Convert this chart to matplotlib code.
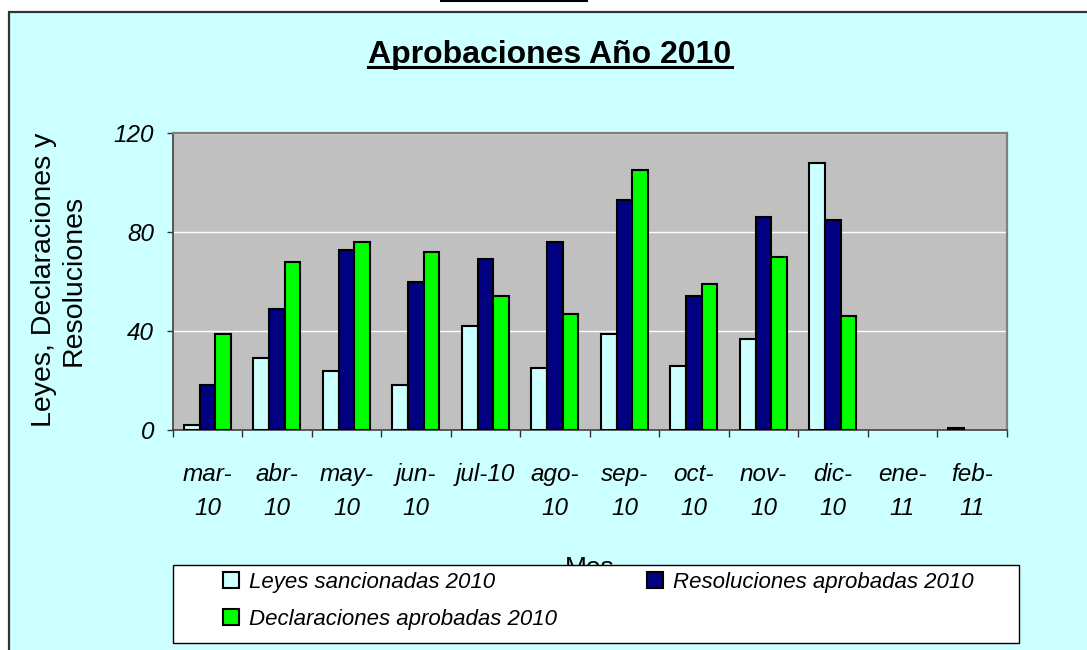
import numpy as np
import matplotlib
matplotlib.use("Agg")
import matplotlib.pyplot as plt
from matplotlib.patches import Rectangle
from matplotlib.lines import Line2D

plt.rcParams['font.family'] = ['Liberation Sans', 'DejaVu Sans']

# data
meses = ['mar-\n10', 'abr-\n10', 'may-\n10', 'jun-\n10', 'jul-10', 'ago-\n10',
         'sep-\n10', 'oct-\n10', 'nov-\n10', 'dic-\n10', 'ene-\n11', 'feb-\n11']
leyes = [2, 29, 24, 18, 42, 25, 39, 26, 37, 108, 0, 1]
resoluciones = [18, 49, 73, 60, 69, 76, 93, 54, 86, 85, 0, 0]
declaraciones = [39, 68, 76, 72, 54, 47, 105, 59, 70, 46, 0, 0]
series_names = ['Leyes sancionadas 2010', 'Resoluciones aprobadas 2010',
                'Declaraciones aprobadas 2010']
yticks = [0, 40, 80, 120]

W, H = 1087, 650


def fx(px):
    return px / W


def fy(py):
    return 1 - py / H


fig = plt.figure(figsize=(W / 100, H / 100), dpi=100, facecolor='white')

# chart area frame
fig.add_artist(Rectangle((fx(9), -0.1), 1.2, fy(12) + 0.1, transform=fig.transFigure,
                         facecolor='#CCFFFF', edgecolor='#333333', lw=1.6, zorder=-1))
# small black mark at the very top
fig.add_artist(Line2D([fx(441), fx(587)], [fy(0.8), fy(0.8)], transform=fig.transFigure,
                      color='black', lw=1.5))

ax = fig.add_axes([fx(172.7), fy(430), fx(1006.7) - fx(172.7), fy(133.3) - fy(430)])
ax.set_facecolor('#C0C0C0')

x = np.arange(len(meses))
w = 0.225


def edges(vals):
    return ['black' if v > 0 else 'none' for v in vals]


b1 = ax.bar(x - w, leyes, w, color='#CCFFFF', edgecolor=edges(leyes), lw=1.5, zorder=3)
b2 = ax.bar(x, resoluciones, w, color='#000080', edgecolor=edges(resoluciones), lw=1.5, zorder=3)
b3 = ax.bar(x + w, declaraciones, w, color='#00FF00', edgecolor=edges(declaraciones), lw=1.5, zorder=3)

ax.set_xlim(-0.5, len(meses) - 0.5)
ax.set_ylim(0, 120)
ax.set_yticks(yticks)
ax.set_yticklabels([str(v) for v in yticks], fontstyle='italic', fontsize=17.5)
ax.tick_params(axis='y', direction='out', length=4.5, width=1, color='#333333', pad=9)

ax.set_xticks(x)
ax.set_xticklabels(meses, fontstyle='italic', fontsize=17.5, linespacing=1.58)
ax.tick_params(axis='x', which='major', length=0, pad=24)
ax.set_xticks(np.arange(-0.5, len(meses), 1), minor=True)
ax.tick_params(axis='x', which='minor', direction='out', length=5, width=1, color='#333333')

ax.yaxis.grid(True, color='white', lw=1)
ax.set_axisbelow(True)
for s in ['top', 'right']:
    ax.spines[s].set_color('#808080')
    ax.spines[s].set_linewidth(1.6)
for s in ['left', 'bottom']:
    ax.spines[s].set_color('#404040')
    ax.spines[s].set_linewidth(1.2)

# title with underline
title = fig.text(fx(550), fy(63.3), 'Aprobaciones Año 2010', ha='center', va='baseline',
                 fontsize=23, fontweight='bold')
fig.canvas.draw()
bb = title.get_window_extent(fig.canvas.get_renderer())
fig.add_artist(Line2D([bb.x0 / W, bb.x1 / W], [fy(67), fy(67)], transform=fig.transFigure,
                      color='black', lw=2.2))

# axis titles
fig.text(fx(59), fy(280), 'Leyes, Declaraciones y\nResoluciones', rotation=90,
         ha='center', va='center', multialignment='center', fontsize=20.5)
fig.text(fx(589.7), fy(575), 'Mes', ha='center', va='baseline', fontsize=19, zorder=3)

# legend box
fig.add_artist(Rectangle((fx(173.3), fy(642.7)), fx(1019) - fx(173.3), fy(565.3) - fy(642.7),
                         transform=fig.transFigure, facecolor='white', edgecolor='black',
                         lw=1, zorder=4))
leg_kw = dict(frameon=False, loc='upper left', borderpad=0, borderaxespad=0,
              handlelength=0.7, handleheight=0.7, handletextpad=0.45, labelspacing=0.72,
              prop={'size': 16, 'style': 'italic'})
l1 = fig.legend([b1, b3], [series_names[0], series_names[2]],
                bbox_to_anchor=(fx(223), fy(572)), **leg_kw)
l2 = fig.legend([b2], [series_names[1]], bbox_to_anchor=(fx(647), fy(572)), **leg_kw)
l1.set_zorder(5)
l2.set_zorder(5)

fig.savefig('out.png', dpi=100, facecolor='white')
